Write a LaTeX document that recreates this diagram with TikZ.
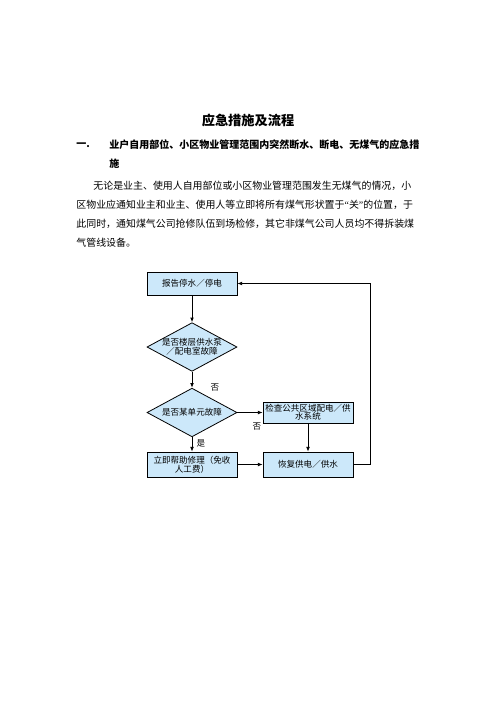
\documentclass[tikz,border=0pt]{standalone}
\usepackage{fontspec}
\setmainfont{Noto Sans CJK SC}
\newfontfamily\quotefont{Liberation Serif}
\usetikzlibrary{shapes.geometric, arrows.meta}
\definecolor{boxblue}{RGB}{204,232,250}
\newcommand\flowfont{\fontsize{6.4pt}{6pt}\selectfont}
\newcommand\bodyfont{\fontsize{7.45pt}{9pt}\selectfont}
\newcommand\headfont{\fontsize{7.5pt}{9pt}\selectfont\bfseries}

\begin{document}
\begin{tikzpicture}[x=0.75pt, y=-0.75pt, line width=0.6pt, >={Latex[length=3.5pt,width=2.8pt]},
            proc/.style ={rectangle, draw=black, fill=boxblue, minimum width=67.5pt, inner sep=0pt, align=center, font=\flowfont},
            decision/.style ={diamond, draw=black, fill=boxblue, minimum width=67.5pt, minimum height=36.5pt, inner sep=0pt},
            lbl/.style ={inner sep=0pt, font=\flowfont},
            textline/.style ={anchor=west, inner sep=0pt, font=\bodyfont}]

        \useasboundingbox (0,0) rectangle (496,702);

        %texto de la pagina
        \node[font=\fontsize{9.9pt}{12pt}\selectfont\bfseries] (title) at (248,120) {应急措施及流程};
        \node[textline, font=\headfont] (num) at (76,145) {一.};
        \node[textline, font=\headfont] (head1) at (109,145) {业户自用部位、小区物业管理范围内突然断水、断电、无煤气的应急措};
        \node[textline, font=\headfont] (head2) at (109,164) {施};
        \node[textline] (body1) at (93,186) {无论是业主、使用人自用部位或小区物业管理范围发生无煤气的情况，小};
        \node[textline] (body2) at (76,205) {区物业应通知业主和业主、使用人等立即将所有煤气形状置于{\quotefont“}关{\quotefont”}的位置，于};
        \node[textline] (body3) at (76,224) {此同时，通知煤气公司抢修队伍到场检修，其它非煤气公司人员均不得拆装煤};
        \node[textline] (body4) at (76,243) {气管线设备。};

        %diagrama
        \node[proc, minimum height=17.25pt] (report) at (192,283.5) {报告停水／停电};
        \node[decision, label={[lbl, align=center]center:{是否楼层供水泵\\／配电室故障}}] (floor) at (192,347) {};
        \node[decision, label={[lbl]center:是否某单元故障}] (unit) at (192,412.5) {};
        \node[proc, minimum height=18.75pt] (repair) at (192,464.5) {立即帮助修理（免收\\人工费）};
        \node[proc, minimum height=15.75pt] (check) at (308,412.5) {检查公共区域配电／供\\水系统};
        \node[proc, minimum height=18.75pt] (restore) at (308,464.5) {恢复供电／供水};
        \coordinate (back) at (370,464.5);

        \node[lbl] (no1) at (215,387) {否};
        \node[lbl] (no2) at (257,426) {否};
        \node[lbl] (yes) at (201,443) {是};

        \path (report) edge [->] (floor);
        \path (floor) edge [->] (unit);
        \path (unit) edge [->] (check);
        \path (unit) edge [->] (repair);
        \path (check) edge [->] (restore);
        \path (repair) edge [->] (restore);

        %regreso al inicio
        \draw[->] (restore.east) -- (back) |- (report.east);
    \end{tikzpicture}
\end{document}
